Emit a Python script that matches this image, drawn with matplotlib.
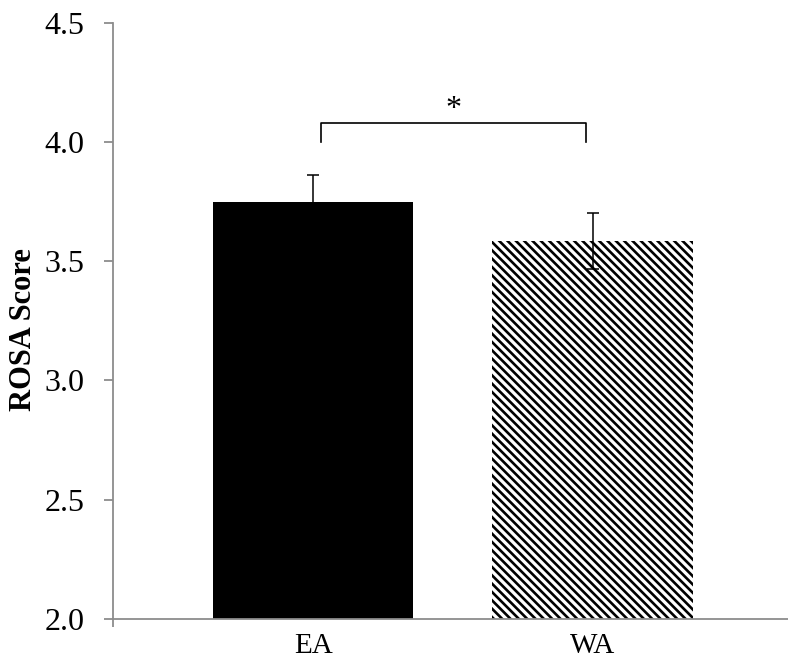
import matplotlib
matplotlib.use("Agg")
import matplotlib.pyplot as plt

# values
groups = ["EA", "WA"]
means = [3.75, 3.585]
errors = [0.11, 0.118]
hatches = [None, "\\\\\\\\"]
faces = ["black", "white"]

bracket_low = 4.0
bracket_high = 4.08
star_y = 4.135

plt.rcParams["font.family"] = ["Liberation Serif", "DejaVu Serif"]
plt.rcParams["hatch.linewidth"] = 1.9

fig = plt.figure(figsize=(7.88, 6.63), dpi=100)
ax = fig.add_axes([113 / 788, 1 - 619 / 663, 1 - 113 / 788, (619 - 22.7) / 663])

x = list(range(len(groups)))
for i in x:
    ax.bar(i, means[i], width=0.717, bottom=0, color=faces[i], edgecolor="black",
           linewidth=0, hatch=hatches[i], zorder=2)
ax.errorbar(x, means, yerr=errors, fmt="none", ecolor="black", elinewidth=1.1,
            capsize=4.3, capthick=1.1, zorder=3)

# significance bracket
bx0, bx1 = 0.029, 0.975
ax.plot([bx0, bx0, bx1, bx1], [bracket_low, bracket_high, bracket_high, bracket_low],
        color="black", lw=1.2, solid_joinstyle="round", zorder=3)
ax.text((bx0 + bx1) / 2, star_y, "*", ha="center", va="center", fontsize=23)

ax.set_ylim(2.0, 4.5)
ax.set_xlim(-0.717, 1.70)
ax.set_yticks([2.0, 2.5, 3.0, 3.5, 4.0, 4.5])
ax.set_yticklabels(["2.0", "2.5", "3.0", "3.5", "4.0", "4.5"])
ax.set_xticks(x)
ax.set_xticklabels(groups)
ax.set_xticks([-0.717], minor=True)

for s in ["top", "right"]:
    ax.spines[s].set_visible(False)
for s in ["left", "bottom"]:
    ax.spines[s].set_color("#8c8c8c")
    ax.spines[s].set_linewidth(1.3)

ax.tick_params(axis="y", direction="out", length=6.5, width=1.3, color="#8c8c8c",
               labelsize=23, pad=14)
ax.tick_params(axis="x", which="major", length=0, labelsize=21, pad=10)
ax.tick_params(axis="x", which="minor", direction="out", length=6, width=1.3, color="#8c8c8c")

ax.set_ylabel("ROSA Score", fontsize=22, fontweight="bold")
ax.yaxis.set_label_coords(-0.111, 0.486)

fig.savefig("out.png", dpi=100)
